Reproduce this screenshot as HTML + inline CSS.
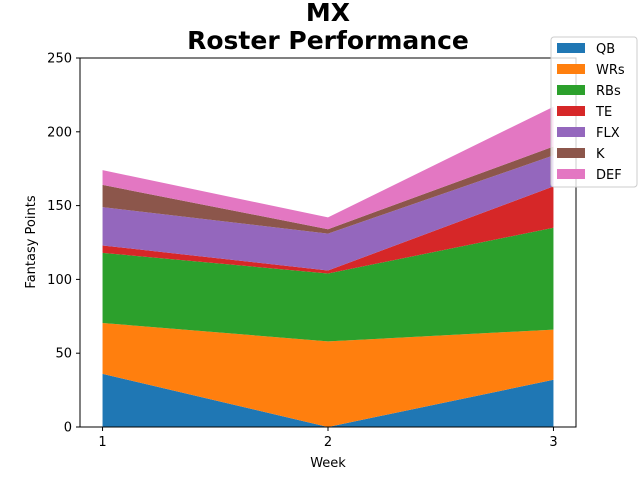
<!DOCTYPE html>
<html><head><meta charset="utf-8"><style>
body{margin:0;background:#fff;}
svg{font-family:"DejaVu Sans","Liberation Sans",sans-serif;}
</style></head><body>
<svg id="chart" width="640" height="480">
<g id="areas"></g>
<rect x="80" y="58" width="496" height="369" fill="none" stroke="#000" stroke-width="1"/>
<g id="axes"></g>
<text x="328" y="21" text-anchor="middle" font-size="25" font-weight="bold">MX</text>
<text x="328" y="49" text-anchor="middle" font-size="25" font-weight="bold">Roster Performance</text>
<text x="328" y="467" text-anchor="middle" font-size="13">Week</text>
<text x="35" y="242" text-anchor="middle" font-size="13" transform="rotate(-90 35 242)">Fantasy Points</text>
<g id="legend"></g>
</svg>
<script>
const weeks = [1, 2, 3];
const seriesNames = ["QB","WRs","RBs","TE","FLX","K","DEF"];
const colors = ["#1f77b4","#ff7f0e","#2ca02c","#d62728","#9467bd","#8c564b","#e377c2"];
const QB = [36, 0, 32];
const WRs = [34.5, 58, 34];
const RBs = [47.5, 46, 69];
const TE = [5, 2, 28];
const FLX = [26, 25, 21];
const K = [15, 3, 6];
const DEF = [10, 8, 27];
const yTicks = [0, 50, 100, 150, 200, 250];
const series = [QB, WRs, RBs, TE, FLX, K, DEF];
const NS = "http://www.w3.org/2000/svg";
const x = w => 80 + (w - 0.9) / 2.2 * 496;
const y = v => 427 - v / 250 * 369;
const areas = document.getElementById('areas');
let base = weeks.map(() => 0);
series.forEach((s, i) => {
  const top = base.map((b, j) => b + s[j]);
  let d = weeks.map((w, j) => (j ? 'L' : 'M') + x(w) + ',' + y(top[j])).join(' ');
  for (let j = weeks.length - 1; j >= 0; j--) d += ' L' + x(weeks[j]) + ',' + y(base[j]);
  const p = document.createElementNS(NS, 'path');
  p.setAttribute('d', d + ' Z');
  p.setAttribute('fill', colors[i]);
  
  
  areas.appendChild(p);
  base = top;
});
const axes = document.getElementById('axes');
function add(parent, tag, attrs, text) {
  const e = document.createElementNS(NS, tag);
  for (const k in attrs) e.setAttribute(k, attrs[k]);
  if (text !== undefined) e.textContent = text;
  parent.appendChild(e); return e;
}
yTicks.forEach(t => {
  const l = add(axes, 'line', {x1: 76, x2: 80, y1: y(t), y2: y(t), stroke: '#000'});
  
  
  const tx = add(axes, 'text', {x: 72, y: y(t) + 4.5, 'text-anchor': 'end', 'font-size': 13}, t);
  
  
});
weeks.forEach(w => {
  const l = add(axes, 'line', {x1: x(w), x2: x(w), y1: 427, y2: 431, stroke: '#000'});
  
  
  const tx = add(axes, 'text', {x: x(w), y: 446, 'text-anchor': 'middle', 'font-size': 13}, w);
  
  
});
const lg = document.getElementById('legend');
const box = add(lg, 'rect', {x: 551, y: 37, width: 86, height: 150, rx: 3, fill: '#fff', 'fill-opacity': 0.8, stroke: '#ccc'});


seriesNames.forEach((n, i) => {
  const g = add(lg, 'g', {});
  
  
  add(g, 'rect', {x: 557, y: 43 + i * 21, width: 28, height: 10, fill: colors[i]});
  add(g, 'text', {x: 596, y: 53 + i * 21, 'font-size': 13}, n);
});
</script>
</body></html>
